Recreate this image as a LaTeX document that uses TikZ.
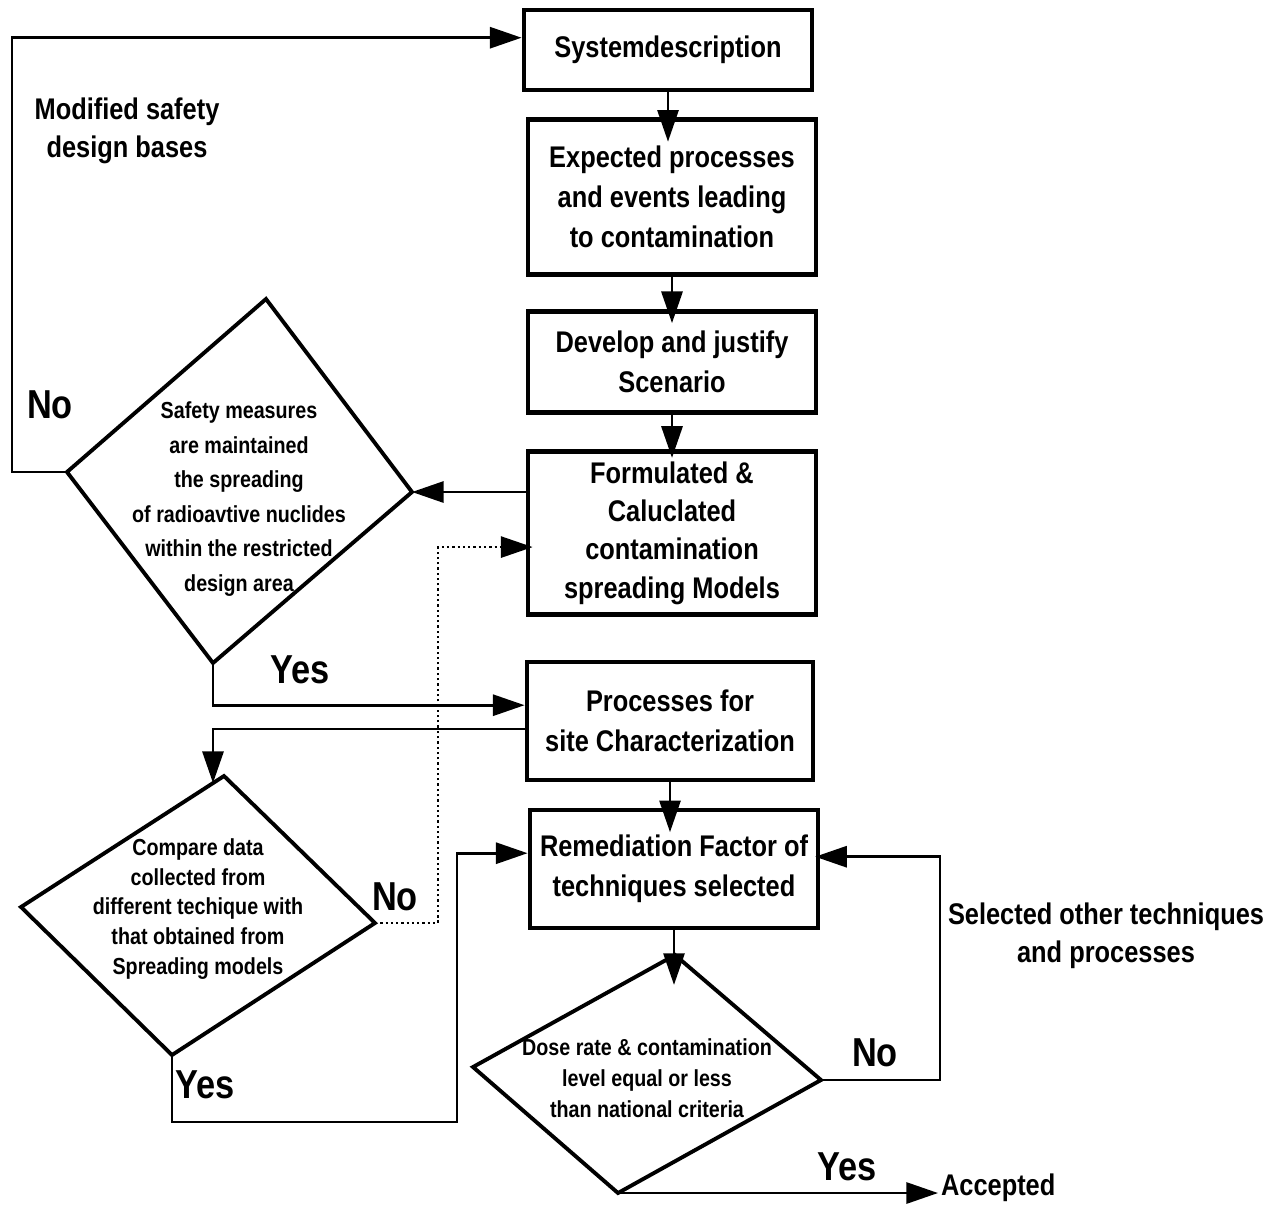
\documentclass[tikz,border=0pt]{standalone}
\usepackage{fontspec}
\setmainfont{Liberation Sans}[FakeStretch=0.85]
\usetikzlibrary{arrows.meta}
\tikzset{
  every picture/.style={font=\bfseries, line width=1.5pt},
  box/.style={draw, line width=2.8pt, align=center, inner sep=2pt, minimum width=5.76cm,
    font=\bfseries\fontsize{17}{22.7}\selectfont},
  decision/.style={draw, line width=2.2pt, line join=miter},
  dtext/.style={align=center, inner sep=0pt, font=\bfseries\fontsize{13.2}{#1}\selectfont},
  dtext/.default=19.6,
  arrow/.style={-{Triangle[length=18pt, width=12pt]}, line width=1.5pt},
  dotarrow/.style={arrow, line width=1.3pt, dash pattern=on 1.3pt off 1.7pt},
  answer/.style={inner sep=1pt, font=\bfseries\fontsize{23}{26}\selectfont},
  note/.style={align=center, inner sep=1pt, font=\bfseries\fontsize{17}{21.5}\selectfont},
}

\begin{document}
\begin{tikzpicture}[x=0.02cm, y=-0.02cm]
  \useasboundingbox (0,0) rectangle (1274,1205);
  % main chain
  \node[box, minimum height=1.6cm] (sys) at (668,50) {Systemdescription};
  \node[box, minimum height=3.1cm] (exp) at (672,197) {Expected processes\\and events leading\\to contamination};
  \node[box, minimum height=2.02cm] (dev) at (672,362) {Develop and justify\\Scenario};
  \node[box, minimum height=3.26cm, font=\bfseries\fontsize{17}{21.8}\selectfont] (form) at (672,533)
    {Formulated \&\\Caluclated\\contamination\\spreading Models};
  \node[box, minimum width=5.72cm, minimum height=2.36cm] (proc) at (670,721) {Processes for\\site Characterization};
  \node[box, minimum height=2.36cm] (rem) at (674,869) {Remediation Factor of\\techniques selected};
  \foreach \a/\b/\s in {sys/exp/14pt, exp/dev/8pt, dev/form/5pt, proc/rem/14pt}
    \draw[arrow, shorten >=-\s] (\a.south) -- (\a.south |- \b.north);

  % decisions
  \coordinate (d1t) at (266,299); \coordinate (d1r) at (412,492);
  \coordinate (d1b) at (213,663); \coordinate (d1l) at (67,472);
  \coordinate (d2t) at (224,776); \coordinate (d2r) at (375,923);
  \coordinate (d2b) at (172,1055); \coordinate (d2l) at (21,907);
  \coordinate (d2in) at (213,783);
  \coordinate (d3t) at (675,955); \coordinate (d3r) at (821,1080);
  \coordinate (d3b) at (618,1193); \coordinate (d3l) at (473,1067);
  \foreach \d in {d1,d2,d3}
    \draw[decision] (\d t) -- (\d r) -- (\d b) -- (\d l) -- cycle;
  \node[dtext] (safe) at (239,499) {Safety measures\\are maintained\\the spreading\\of radioavtive nuclides\\within the restricted\\design area};
  \node[dtext=16.9] (cmp) at (198,909) {Compare data\\collected from\\different techique with\\that obtained from\\Spreading models};
  \node[dtext=17.6] (dose) at (647,1078) {Dose rate \& contamination\\level equal or less\\than national criteria};
  \draw[arrow, shorten >=-17pt] (rem.south) -- (rem.south |- d3t);

  % branches
  \draw[arrow] (d1l) -- ++(-55,0) |- ([yshift=7pt]sys.west);
  \draw[arrow] (form.west |- d1r) -- (d1r);
  \draw[dotarrow, shorten >=-4pt] (d2r) -- ++(63,0) |- ([yshift=-8pt]form.west);
  \draw[arrow] (d1b) |- ([yshift=9pt]proc.west);
  \draw[arrow] ([yshift=-4.5pt]proc.west) -| (d2in);
  \draw[arrow] (d2b) |- (457,1122) |- ([yshift=9pt]rem.west);
  \draw[arrow, shorten >=-3pt] (d3r) -- (940,1080) |- ([yshift=7pt]rem.east);

  % labels
  \node[note] (mod) at (127,131) {Modified safety\\design bases};
  \node[answer] (no1) at (50,405) {No};
  \node[answer] (yes1) at (300,670) {Yes};
  \node[answer] (no2) at (395,897) {No};
  \node[answer] (yes2) at (205,1085) {Yes};
  \node[answer] (no3) at (875,1053) {No};
  \node[answer] (yes3) at (847,1167) {Yes};
  \node[note] (other) at (1106,936) {Selected other techniques\\and processes};
  \node[note, anchor=west] (acc) at (938,1188) {Accepted};
  \draw[arrow] (d3b) -- (acc.west |- d3b);
\end{tikzpicture}
\end{document}
